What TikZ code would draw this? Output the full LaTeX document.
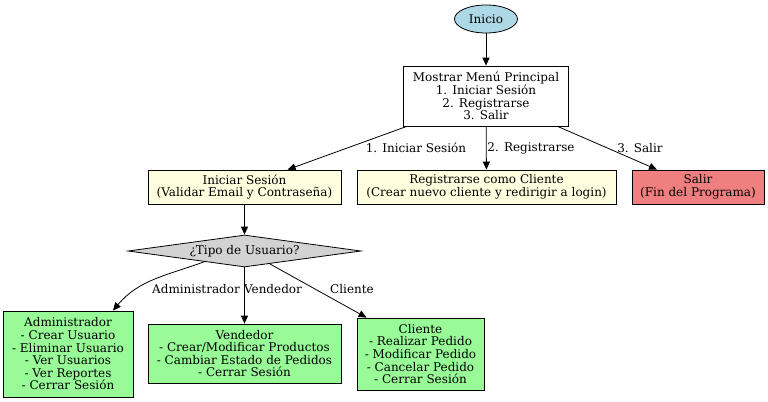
\documentclass[tikz,border=0pt]{standalone}
\usepackage{fontspec}
\setmainfont{DejaVu Serif}
\usetikzlibrary{shapes.geometric,arrows.meta}

\definecolor{azulclaro}{HTML}{ADD8E6}
\definecolor{amarilloclaro}{HTML}{FFFFE0}
\definecolor{coral}{HTML}{F08080}
\definecolor{verdeclaro}{HTML}{98FB98}
\definecolor{grisclaro}{HTML}{D3D3D3}

\begin{document}
\begin{tikzpicture}[x=1bp,y=-1bp,
	caja/.style={draw, line width=0.8bp, align=center, inner sep=0pt, font=\fontsize{12bp}{12.6bp}\selectfont},
	flecha/.style={-{Triangle[length=8bp,width=7bp]}, line width=0.8bp},
	etiqueta/.style={font=\fontsize{12bp}{12.6bp}\selectfont, inner sep=0pt}]
	\useasboundingbox (0,0) rectangle (768,401);
	% nodos
	\node[caja, ellipse, fill=azulclaro, minimum width=63bp, minimum height=28bp] (inicio) at (486,19) {Inicio};
	\node[caja, fill=white, minimum width=165bp, minimum height=60bp] (menu) at (486,96) {Mostrar Menú Principal\\1. Iniciar Sesión\\2. Registrarse\\3. Salir};
	\node[caja, fill=amarilloclaro, minimum width=193bp, minimum height=34bp] (login) at (244.5,187) {Iniciar Sesión\\(Validar Email y Contraseña)};
	\node[caja, fill=amarilloclaro, minimum width=259bp, minimum height=34bp] (registro) at (486.5,187) {Registrarse como Cliente\\(Crear nuevo cliente y redirigir a login)};
	\node[caja, fill=coral, minimum width=132bp, minimum height=34bp] (salir) at (698,187) {Salir\\(Fin del Programa)};
	\node[caja, diamond, shape aspect=7.3, fill=grisclaro, minimum width=233bp, minimum height=32bp] (tipo) at (244.5,251) {¿Tipo de Usuario?};
	\node[caja, fill=verdeclaro, minimum width=130bp, minimum height=86bp] (admin) at (68,354) {Administrador\\- Crear Usuario\\- Eliminar Usuario\\- Ver Usuarios\\- Ver Reportes\\- Cerrar Sesión};
	\node[caja, fill=verdeclaro, minimum width=193bp, minimum height=59bp] (vendedor) at (244.5,353.5) {Vendedor\\- Crear/Modificar Productos\\- Cambiar Estado de Pedidos\\- Cerrar Sesión};
	\node[caja, fill=verdeclaro, minimum width=127bp, minimum height=72bp] (cliente) at (420.5,354) {Cliente\\- Realizar Pedido\\- Modificar Pedido\\- Cancelar Pedido\\- Cerrar Sesión};
	% etiquetas
	\node[etiqueta] (e1) at (416,148) {1. Iniciar Sesión};
	\node[etiqueta] (e2) at (531,148) {2. Registrarse};
	\node[etiqueta] (e3) at (640,148) {3. Salir};
	\node[etiqueta] (e4) at (196,289) {Administrador};
	\node[etiqueta] (e5) at (273,289) {Vendedor};
	\node[etiqueta] (e6) at (352,289) {Cliente};
	% conexiones
	\draw[flecha] (inicio) -- (menu);
	\draw[flecha] (menu.-159) -- (login.22);
	\draw[flecha] (menu) -- (registro);
	\draw[flecha] (menu.-23.5) -- (salir.157.5);
	\draw[flecha] (login) -- (tipo);
	\draw[flecha] (tipo.-165) to[out=200,in=50] (admin.44);
	\draw[flecha] (tipo) -- (vendedor);
	\draw[flecha] (tipo.-27) -- (cliente.146);
\end{tikzpicture}
\end{document}
